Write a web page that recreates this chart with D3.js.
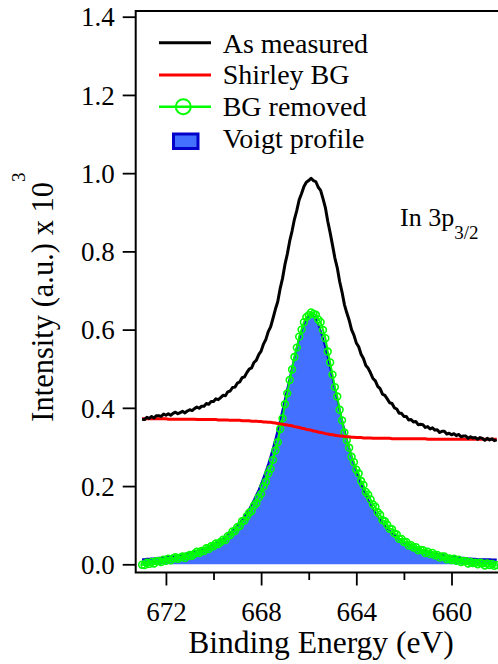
<!DOCTYPE html>
<html><head><meta charset="utf-8">
<script src="https://cdn.jsdelivr.net/npm/d3@7"></script>
<style>
html,body{margin:0;padding:0;background:#fff;}
svg text{font-family:"Liberation Serif","Times New Roman",serif;}
</style></head><body>
<svg id="chart" width="498" height="664"></svg>
<script>
// In 3p3/2 core-level spectrum, 0.1 eV acquisition grid (673.0 -> 658.1 eV)
const energy = d3.range(0, 150).map(i => +(673.0 - 0.1 * i).toFixed(1));

// As-measured intensity (x10^3 a.u.)
const measured = [
  .371,.370,.376,.373,.378,.374,.380,.380,.378,.384,
  .381,.385,.381,.386,.389,.385,.388,.391,.387,.392,
  .395,.393,.398,.402,.399,.404,.404,.411,.409,.416,
  .416,.423,.421,.426,.432,.431,.441,.443,.452,.453,
  .463,.466,.477,.479,.490,.499,.502,.516,.522,.536,
  .545,.563,.575,.595,.607,.629,.652,.672,.705,.731,
  .766,.793,.826,.852,.882,.905,.932,.948,.966,.977,
  .981,.987,.981,.978,.964,.956,.935,.912,.877,.848,
  .816,.783,.758,.723,.696,.664,.643,.624,.600,.586,
  .566,.556,.537,.526,.508,.501,.489,.475,.469,.455,
  .449,.435,.432,.423,.413,.411,.400,.397,.386,.386,
  .378,.378,.369,.370,.364,.365,.357,.358,.357,.350,
  .352,.346,.349,.343,.344,.337,.340,.340,.333,.335,
  .331,.334,.329,.332,.326,.328,.328,.322,.326,.323,
  .324,.320,.324,.322,.317,.322,.318,.321,.316,.318
];

// Shirley background
const shirley = [
  .372,.372,.372,.372,.372,.372,.372,.372,.372,.372,
  .372,.371,.371,.371,.371,.371,.371,.371,.371,.371,
  .371,.371,.371,.370,.370,.370,.370,.370,.370,.370,
  .370,.370,.369,.369,.369,.369,.369,.368,.368,.368,
  .368,.368,.367,.367,.367,.367,.366,.366,.366,.365,
  .365,.364,.364,.363,.363,.362,.361,.360,.359,.358,
  .357,.356,.355,.354,.352,.351,.350,.348,.347,.345,
  .344,.343,.341,.340,.338,.337,.336,.334,.333,.332,
  .331,.330,.329,.328,.328,.327,.326,.326,.325,.325,
  .324,.324,.324,.323,.323,.323,.323,.322,.322,.322,
  .322,.322,.322,.322,.322,.321,.321,.321,.321,.321,
  .321,.321,.321,.321,.321,.321,.321,.321,.321,.321,
  .320,.320,.320,.320,.320,.320,.320,.320,.320,.320,
  .320,.320,.320,.320,.320,.320,.320,.320,.320,.320,
  .320,.320,.320,.320,.320,.320,.320,.320,.320,.320
];

// Voigt profile fitted to the background-subtracted peak
const voigt = [
  .013,.013,.014,.014,.015,.015,.016,.017,.017,.018,
  .019,.019,.020,.021,.022,.023,.024,.025,.027,.028,
  .029,.031,.032,.034,.036,.038,.040,.043,.045,.048,
  .051,.054,.058,.062,.066,.070,.075,.080,.086,.092,
  .099,.106,.114,.123,.132,.142,.153,.165,.178,.191,
  .206,.222,.239,.257,.277,.298,.320,.344,.369,.395,
  .422,.449,.476,.503,.529,.554,.577,.597,.614,.627,
  .635,.638,.635,.627,.614,.597,.577,.554,.529,.503,
  .476,.449,.422,.395,.369,.344,.320,.298,.277,.257,
  .239,.222,.206,.191,.178,.165,.153,.142,.132,.123,
  .114,.106,.099,.092,.086,.080,.075,.070,.066,.062,
  .058,.054,.051,.048,.045,.043,.040,.038,.036,.034,
  .032,.031,.029,.028,.027,.025,.024,.023,.022,.021,
  .020,.019,.019,.018,.017,.017,.016,.015,.015,.014,
  .014,.013,.013,.013,.013,.013,.013,.012,.012,.012
];

const yTicks = [0, 0.2, 0.4, 0.6, 0.8, 1.0, 1.2, 1.4];
const xMajorTicks = [672, 668, 664, 660];
const xMinorTicks = [670, 666, 662];

const legendItems = ["As measured", "Shirley BG", "BG removed", "Voigt profile"];

// Background-subtracted spectrum
const bgRemoved = measured.map((v, i) => v - shirley[i]);

const FONT = '"Liberation Serif","Times New Roman",serif';
const svg = d3.select("#chart");
const frame = { left: 135.7, top: 11, bottom: 572.5, right: 499 };

const x = d3.scaleLinear().domain([673.27, 658.0]).range([135.7, 499.1]);
const y = d3.scaleLinear().domain([0, 1.4]).range([564.3, 16.7]);

const pts = (arr) => arr.map((v, i) => [energy[i], v]);

svg.append("clipPath").attr("id", "plotClip")
  .append("rect").attr("x", frame.left).attr("y", frame.top)
  .attr("width", frame.right - frame.left).attr("height", frame.bottom - frame.top);

const plot = svg.append("g").attr("clip-path", "url(#plotClip)");

// Voigt fill + outline
const area = d3.area().x(d => x(d[0])).y0(y(0)).y1(d => y(d[1]));
const line = d3.line().x(d => x(d[0])).y(d => y(d[1]));
plot.append("path").datum(pts(voigt)).attr("d", area).attr("fill", "#4470ff");
plot.append("path").datum(pts(voigt)).attr("d", line)
  .attr("fill", "none").attr("stroke", "#0000c8").attr("stroke-width", 2);

// BG removed: line with hollow circle markers
plot.append("path").datum(pts(bgRemoved)).attr("d", line)
  .attr("fill", "none").attr("stroke", "#00ff00").attr("stroke-width", 2);
plot.append("g").selectAll("circle").data(pts(bgRemoved)).join("circle")
  .attr("cx", d => x(d[0])).attr("cy", d => y(d[1])).attr("r", 3.4)
  .attr("fill", "none").attr("stroke", "#00ff00").attr("stroke-width", 1.6);

// Shirley background
plot.append("path").datum(pts(shirley)).attr("d", line)
  .attr("fill", "none").attr("stroke", "#ff0000").attr("stroke-width", 3);

// As measured
plot.append("path").datum(pts(measured)).attr("d", line)
  .attr("fill", "none").attr("stroke", "#000").attr("stroke-width", 3)
  .attr("stroke-linejoin", "round");

// Frame (left, top, bottom)
svg.append("path")
  .attr("d", `M${frame.right},${frame.top}H${frame.left}V${frame.bottom}H${frame.right}`)
  .attr("fill", "none").attr("stroke", "#000").attr("stroke-width", 2);

// Y axis
const yAxis = svg.append("g").attr("transform", `translate(${frame.left},0)`)
  .call(d3.axisLeft(y).tickValues(yTicks).tickSize(13).tickPadding(8)
    .tickFormat(d3.format(".1f")));
yAxis.attr("font-family", FONT);
yAxis.select(".domain").remove();
yAxis.selectAll("line").attr("stroke-width", 1.8);
yAxis.selectAll("text").attr("font-size", 27).attr("fill", "#000")
  .style("font-family", FONT).attr("dy", "0.34em");

// X axis
const xAxis = svg.append("g").attr("transform", `translate(0,${frame.bottom})`)
  .call(d3.axisBottom(x).tickValues(xMajorTicks).tickSize(13).tickFormat(d3.format("d")));
xAxis.attr("font-family", FONT);
xAxis.select(".domain").remove();
xAxis.selectAll("line").attr("stroke-width", 1.8);
xAxis.selectAll("text").attr("font-size", 27).attr("fill", "#000")
  .style("font-family", FONT).attr("y", 48.5).attr("dy", 0);
const xMinor = svg.append("g").attr("transform", `translate(0,${frame.bottom})`)
  .call(d3.axisBottom(x).tickValues(xMinorTicks).tickSize(7.5).tickFormat(""));
xMinor.select(".domain").remove();
xMinor.selectAll("line").attr("stroke-width", 1.8);

// Axis titles
svg.append("text").attr("x", 321).attr("y", 653.3).attr("text-anchor", "middle")
  .style("font-family", FONT).attr("font-size", 31.5).text("Binding Energy (eV)");

const yTitle = svg.append("text")
  .attr("transform", "translate(53.3,421.7) rotate(-90)")
  .style("font-family", FONT)
  .attr("text-anchor", "start").attr("font-size", 30.5);
yTitle.append("tspan").text("Intensity (a.u.) x 10");
yTitle.append("tspan").attr("font-size", 19).attr("dy", -28).text("3");

// Peak annotation
const ann = svg.append("text").attr("x", 400).attr("y", 225.7)
  .style("font-family", FONT).attr("font-size", 26);
ann.append("tspan").text("In 3p");
ann.append("tspan").attr("font-size", 19).attr("dy", 13).text("3/2");

// Legend
const lg = svg.append("g");
const rowBase = [52.5, 84, 115.5, 147.5];
const symY = [42.7, 75, 106.7, 141];
lg.append("line").attr("x1", 159).attr("x2", 211).attr("y1", symY[0]).attr("y2", symY[0])
  .attr("stroke", "#000").attr("stroke-width", 3);
lg.append("line").attr("x1", 159).attr("x2", 211).attr("y1", symY[1]).attr("y2", symY[1])
  .attr("stroke", "#ff0000").attr("stroke-width", 3);
lg.append("line").attr("x1", 159).attr("x2", 211).attr("y1", symY[2]).attr("y2", symY[2])
  .attr("stroke", "#00ff00").attr("stroke-width", 2.5);
lg.append("circle").attr("cx", 183.3).attr("cy", symY[2]).attr("r", 7.5)
  .attr("fill", "none").attr("stroke", "#00ff00").attr("stroke-width", 2);
lg.append("rect").attr("x", 173.5).attr("y", 134).attr("width", 24.5).attr("height", 14.5)
  .attr("fill", "#4470ff").attr("stroke", "#0000c8").attr("stroke-width", 3);
lg.selectAll("text.lbl").data(legendItems).join("text").attr("class", "lbl")
  .style("font-family", FONT)
  .attr("x", 222.7).attr("y", (d, i) => rowBase[i]).attr("font-size", 28).text(d => d);
</script>
</body></html>
